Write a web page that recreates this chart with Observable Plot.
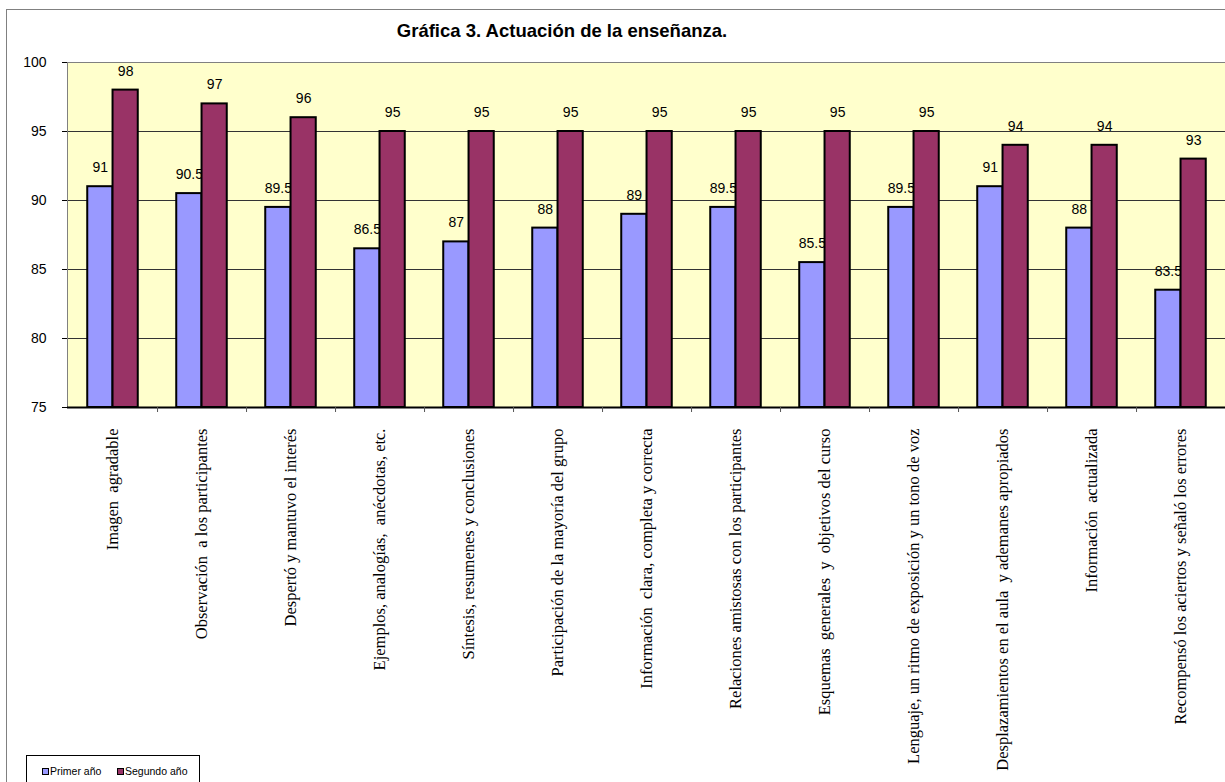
<!DOCTYPE html>
<html>
<head>
<meta charset="utf-8">
<script src="https://cdn.jsdelivr.net/npm/d3@7"></script>
<script src="https://cdn.jsdelivr.net/npm/@observablehq/plot@0.6"></script>
<style>
  html, body { margin: 0; padding: 0; background: #fff; overflow: hidden; }
  #wrap { position: relative; width: 1225px; height: 782px; overflow: hidden; }
  #border { position: absolute; left: 6px; top: 9px; width: 1300px; height: 900px; border: 1px solid #808080; box-sizing: border-box; }
  #title { position: absolute; left: 262px; width: 600px; top: 20px; text-align: center; font: bold 18.5px "Liberation Sans", Arial, sans-serif; color: #000; }
  #chart { position: absolute; left: 0; top: 0; }
  #chart svg text { white-space: pre; }
  #legend { position: absolute; left: 26px; top: 755px; width: 174px; height: 40px; border: 1px solid #000; box-sizing: border-box; background: #fff; font: 10.5px "Liberation Sans", Arial, sans-serif; }
  .li { position: absolute; top: 9px; display: flex; align-items: center; }
  .sw { width: 5px; height: 5px; border: 1px solid #000; margin-right: 1px; }
</style>
</head>
<body>
<div id="wrap">
  <div id="border"></div>
  <div id="chart"></div>
  <div id="title">Gráfica 3. Actuación de la enseñanza.</div>
  <div id="legend"></div>
</div>
<script>
const categories = [
  "Imagen  agradable",
  "Observación  a los participantes",
  "Despertó y mantuvo el interés",
  "Ejemplos, analogías,  anécdotas, etc.",
  "Síntesis, resumenes y conclusiones",
  "Participación de la mayoría del grupo",
  "Información  clara, completa y correcta",
  "Relaciones amistosas con los participantes",
  "Esquemas  generales  y  objetivos del curso",
  "Lenguaje, un ritmo de exposición y un tono de voz",
  "Desplazamientos en el aula  y ademanes apropiados",
  "Información  actualizada",
  "Recompensó los aciertos y señaló los errores"
];
const primerAno = [91, 90.5, 89.5, 86.5, 87, 88, 89, 89.5, 85.5, 89.5, 91, 88, 83.5];
const segundoAno = [98, 97, 96, 95, 95, 95, 95, 95, 95, 95, 94, 94, 93];
const seriesNames = ["Primer año", "Segundo año"];
const seriesColors = ["#9999FF", "#993366"];
const yTicks = [75, 80, 85, 90, 95, 100];
const gridTicks = [80, 85, 90, 95];

const primerData = categories.map((c, i) => ({cat: c, value: primerAno[i]}));
const segundoData = categories.map((c, i) => ({cat: c, value: segundoAno[i]}));

const W = 1225, H = 782, mL = 67, mR = 0, mT = 62, mB = 375;
const bw = (W - mL - mR) / categories.length;
const barW = bw * 0.284;
const outer = (bw - 2 * barW) / 2;
const yMin = yTicks[0];

const plot = Plot.plot({
  width: W, height: H,
  marginLeft: mL, marginRight: mR, marginTop: mT, marginBottom: mB,
  style: {fontFamily: "Liberation Sans, Arial, sans-serif", background: "transparent", overflow: "visible"},
  x: {type: "band", domain: categories, padding: 0},
  y: {domain: [yTicks[0], yTicks[yTicks.length - 1]]},
  marks: [
    Plot.frame({fill: "#FFFFCC", stroke: null}),
    Plot.ruleY(gridTicks, {stroke: "#333", strokeWidth: 1}),
    Plot.ruleY([yTicks[yTicks.length - 1]], {stroke: "#808080", strokeWidth: 1}),
    Plot.frame({anchor: "left", stroke: "#808080", strokeWidth: 1}),
    Plot.axisY({ticks: yTicks, tickSize: 5, tickPadding: 16, fontSize: 14, stroke: "#000", label: null, fill: "#000"}),
    Plot.barY(primerData, {x: "cat", y1: () => yMin, y2: "value", fill: seriesColors[0], stroke: "#000", strokeWidth: 2, insetLeft: outer, insetRight: outer + barW}),
    Plot.text(primerData, {x: "cat", y: "value", text: d => String(d.value), dx: -(barW / 2), dy: -19, fontSize: 14, fill: "#000"}),
    Plot.barY(segundoData, {x: "cat", y1: () => yMin, y2: "value", fill: seriesColors[1], stroke: "#000", strokeWidth: 2, insetLeft: outer + barW, insetRight: outer}),
    Plot.text(segundoData, {x: "cat", y: "value", text: d => String(d.value), dx: barW / 2, dy: -19, fontSize: 14, fill: "#000"}),
    Plot.ruleY([yMin], {stroke: "#000", strokeWidth: 2}),
    Plot.axisX({tickSize: 5, tickFormat: () => "", dx: bw / 2, stroke: "#555", label: null}),
    Plot.axisX({tickSize: 0, tickRotate: -90, tickPadding: 21, fontSize: 16.5, fontFamily: "Liberation Serif, Times New Roman, serif", label: null, fill: "#000"})
  ]
});
document.getElementById("chart").appendChild(plot);

const legend = document.getElementById("legend");
const lx = [15, 90];
seriesNames.forEach((n, i) => {
  const d = document.createElement("div");
  d.className = "li";
  d.style.left = lx[i] + "px";
  d.innerHTML = `<span class="sw" style="background:${seriesColors[i]}"></span><span>${n}</span>`;
  legend.appendChild(d);
});
</script>
</body>
</html>
